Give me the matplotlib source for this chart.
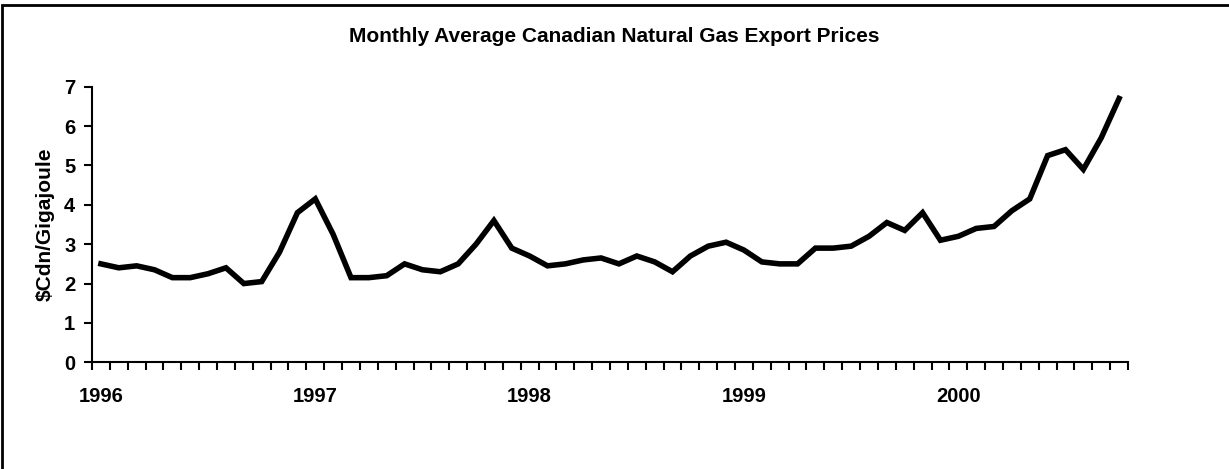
import numpy as np
import matplotlib.pyplot as plt
from matplotlib.patches import Rectangle

plt.rcParams['font.family'] = ['Liberation Sans', 'DejaVu Sans']

# monthly prices Jan 1996 - Oct 2000 ($Cdn/GJ)
prices = [2.5, 2.4, 2.45, 2.35, 2.15, 2.15, 2.25, 2.4, 2.0, 2.05, 2.8, 3.8,
          4.15, 3.25, 2.15, 2.15, 2.2, 2.5, 2.35, 2.3, 2.5, 3.0, 3.6, 2.9,
          2.7, 2.45, 2.5, 2.6, 2.65, 2.5, 2.7, 2.55, 2.3, 2.7, 2.95, 3.05,
          2.85, 2.55, 2.5, 2.5, 2.9, 2.9, 2.95, 3.2, 3.55, 3.35, 3.8, 3.1,
          3.2, 3.4, 3.45, 3.85, 4.15, 5.25, 5.4, 4.9, 5.7, 6.7]
years = ['1996', '1997', '1998', '1999', '2000']

fig = plt.figure(figsize=(12.29, 4.69), dpi=100)
# outer chart border (cut off on the right and bottom)
fig.patches.append(Rectangle((2/1229, -0.1), 1.2, 1 - 5/469 + 0.1, transform=fig.transFigure,
                             fill=False, edgecolor='black', linewidth=2))

ax = fig.add_axes([92/1229, 1 - 362.3/469, (1128 - 92)/1229, (362.3 - 86.7)/469])
n = len(prices)
x = np.arange(n) + 0.5
ax.plot(x, prices, color='black', linewidth=4.0, solid_joinstyle='miter')

ax.set_xlim(0, n)
ax.set_ylim(0, 7)
ax.set_yticks(range(0, 8))
ax.set_xticks(np.arange(0, n + 1))
ax.set_xticklabels([])
ax.set_xticks(np.arange(len(years)) * 12 + 0.5, minor=True)
ax.set_xticklabels(years, minor=True)
ax.tick_params(axis='x', which='minor', length=0, pad=18, labelsize=14.5)
ax.tick_params(axis='x', which='major', length=6, width=1.5, direction='out')
ax.tick_params(axis='y', length=6, width=1.5, direction='out', labelsize=14.5, pad=6)
for lab in ax.get_xticklabels(minor=True) + ax.get_yticklabels():
    lab.set_fontweight('bold')

for s in ['top', 'right']:
    ax.spines[s].set_visible(False)
for s in ['left', 'bottom']:
    ax.spines[s].set_linewidth(1.5)

ax.set_ylabel('$Cdn/Gigajoule', fontsize=15, fontweight='bold', labelpad=7)
fig.text(614/1229, 1 - 36/469, 'Monthly Average Canadian Natural Gas Export Prices',
         ha='center', va='center', fontsize=15, fontweight='bold')

fig.savefig('out.png', dpi=100)
